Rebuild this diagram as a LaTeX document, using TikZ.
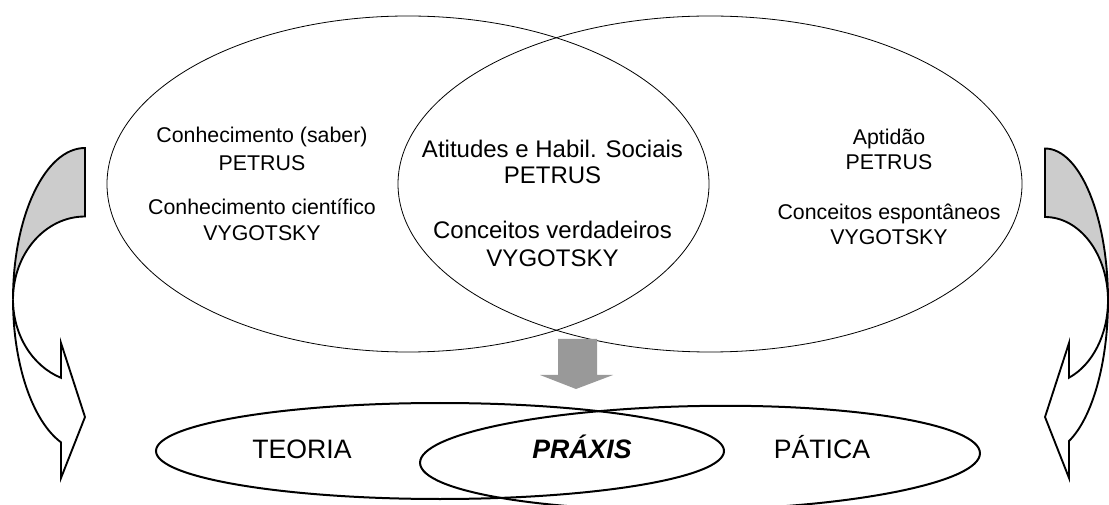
\documentclass[tikz,border=0pt]{standalone}
\usepackage{fontspec}
\setmainfont{Liberation Sans}
\usetikzlibrary{shapes.geometric}
\definecolor{backgray}{RGB}{204,204,204}
\definecolor{arrowgray}{RGB}{153,153,153}
\begin{document}
\begin{tikzpicture}[x=0.75pt,y=-0.75pt,
  bigell/.style={draw, ellipse, line width=0.6pt, inner sep=0pt},
  lowell/.style={draw, ellipse, line width=1.5pt, inner sep=0pt},
  txt/.style={anchor=base, inner sep=0pt, font=\fontsize{16}{19}\selectfont},
  txtm/.style={anchor=base, inner sep=0pt, font=\fontsize{18}{21}\selectfont},
  lbl/.style={anchor=base, inner sep=0pt, font=\fontsize{20}{24}\selectfont},
  curvearrow/.style={draw, line width=1.4pt, line join=miter},
  blockarrow/.style={fill=arrowgray, draw=none}
]
\useasboundingbox (0,0) rectangle (1109,505);

% top ellipses
\node[bigell, minimum width=451.5pt, minimum height=252pt] (L) at (408,184) {};
\node[bigell, minimum width=468pt, minimum height=252pt] (R) at (710,184) {};

% bottom ellipses
\node[lowell, minimum width=426pt, minimum height=72pt] (T) at (440,451) {};
\node[lowell, minimum width=420pt, minimum height=78pt, rotate=1] (P) at (700,458) {};

% gray block arrow
\draw[blockarrow] (558,339) -- (597,339) -- (597,375) -- (613,375) -- (576,389) -- (540,375) -- (558,375) -- cycle;

% left curved arrow
\filldraw[curvearrow, fill=backgray] (85,148)
  arc[start angle=90, end angle=180, x radius=54pt, y radius=113.625pt]
  arc[start angle=180, end angle=90, x radius=54pt, y radius=62.25pt] -- cycle;
\filldraw[curvearrow, fill=white] (13,299.5)
  arc[start angle=180, end angle=250.53, x radius=54pt, y radius=113.625pt]
  -- (61,478) -- (85,417) -- (61,343) -- (61,377.8)
  arc[start angle=250.53, end angle=180, x radius=54pt, y radius=62.25pt] -- cycle;

% right curved arrow
\filldraw[curvearrow, fill=backgray] (1045,148.5)
  arc[start angle=90, end angle=0, x radius=47.25pt, y radius=114pt]
  arc[start angle=0, end angle=90, x radius=47.25pt, y radius=62.625pt] -- cycle;
\filldraw[curvearrow, fill=white] (1108,300.5)
  arc[start angle=0, end angle=-67.6, x radius=47.25pt, y radius=114pt]
  -- (1069,478) -- (1045,417) -- (1069,343) -- (1069,377.7)
  arc[start angle=-67.6, end angle=0, x radius=47.25pt, y radius=62.625pt] -- cycle;

% texts left
\node[txt] (l1) at (262,143) {Conhecimento (saber)};
\node[txt] (l2) at (262,170.7) {PETRUS};
\node[txt] (l3) at (262,215) {Conhecimento científico};
\node[txt] (l4) at (262,240.7) {VYGOTSKY};
% texts middle
\node[txtm] (m1) at (552.5,157.3) {Atitudes e Habil. Sociais};
\node[txtm] (m2) at (552.5,183.3) {PETRUS};
\node[txtm] (m3) at (552.5,238.3) {Conceitos verdadeiros};
\node[txtm] (m4) at (552.5,266.7) {VYGOTSKY};
% texts right
\node[txt] (r1) at (889,145) {Aptidão};
\node[txt] (r2) at (889,169.3) {PETRUS};
\node[txt] (r3) at (889,220) {Conceitos espontâneos};
\node[txt] (r4) at (889,245) {VYGOTSKY};

% bottom labels
\node[lbl] (teoria) at (302,458) {TEORIA};
\node[lbl] (praxis) at (582,458) {\bfseries\itshape PRÁXIS};
\node[lbl] (patica) at (822,458) {PÁTICA};
\end{tikzpicture}
\end{document}
